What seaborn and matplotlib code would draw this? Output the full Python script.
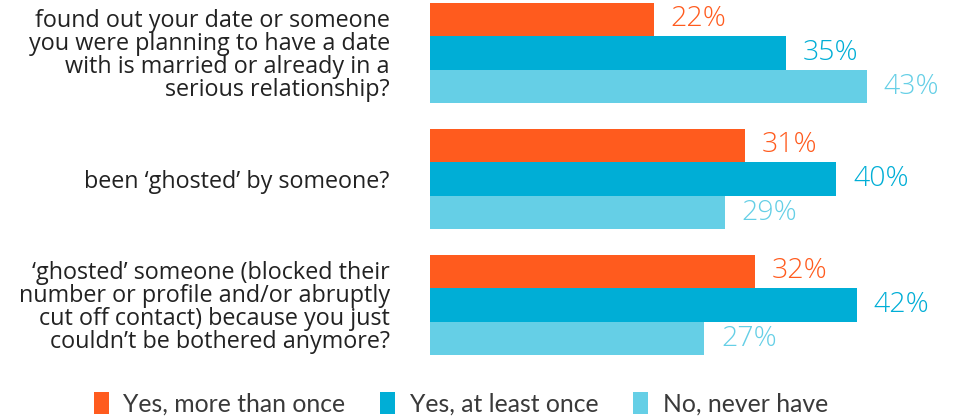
import pandas as pd
import matplotlib.pyplot as plt
import seaborn as sns

questions = [
    "found out your date or someone\nyou were planning to have a date\nwith is married or already in a\nserious relationship?",
    "been \u2018ghosted\u2019 by someone?",
    "\u2018ghosted\u2019 someone (blocked their\nnumber or profile and/or abruptly\ncut off contact) because you just\ncouldn\u2019t be bothered anymore?",
]
responses = ["Yes, more than once", "Yes, at least once", "No, never have"]
more_than_once = [22, 31, 32]
at_least_once = [35, 40, 42]
never_have = [43, 29, 27]
colors = ["#FF5B1E", "#00AED6", "#65CFE6"]

rows = []
for resp, vals in zip(responses, [more_than_once, at_least_once, never_have]):
    for q, v in zip(questions, vals):
        rows.append({"question": q, "response": resp, "value": v})
df = pd.DataFrame(rows)

sns.set_theme(style="white")
plt.rcParams['font.family'] = ['Open Sans', 'DejaVu Sans']

fig = plt.figure(figsize=(9.6, 4.19), dpi=100)
ax = fig.add_axes([0.448, 0.1456, 0.529, 0.854])

sns.barplot(data=df, y="question", x="value", hue="response", palette=colors,
            orient="h", saturation=1, width=0.8, linewidth=0, ax=ax, legend=True)

for cont, c in zip(ax.containers, colors):
    ax.bar_label(cont, fmt="%d%%", padding=12, color=c, fontsize=20.5, fontweight=300)

ax.set_xlim(0, 50)
ax.set_ylim(2.42, -0.42)
ax.set_xlabel("")
ax.set_ylabel("")
ax.set_xticks([])
sns.despine(ax=ax, left=True, bottom=True)
ax.tick_params(axis="y", length=0, pad=29)
for t in ax.get_yticklabels():
    t.set_fontsize(16.8)
    t.set_color("#222222")
    t.set_linespacing(0.93)
    t.set_horizontalalignment("right")
    t.set_multialignment("right")

handles, labels = ax.get_legend_handles_labels()
ax.get_legend().remove()
fig.legend(handles, labels, loc="lower center", bbox_to_anchor=(0.48, -0.045), ncol=3,
           frameon=False, prop={"family": "Lato", "size": 17.8}, handlelength=0.6,
           handleheight=1.0, handletextpad=0.6, columnspacing=1.4, labelcolor="#3a3a3a")

fig.savefig("out.png", dpi=100)
